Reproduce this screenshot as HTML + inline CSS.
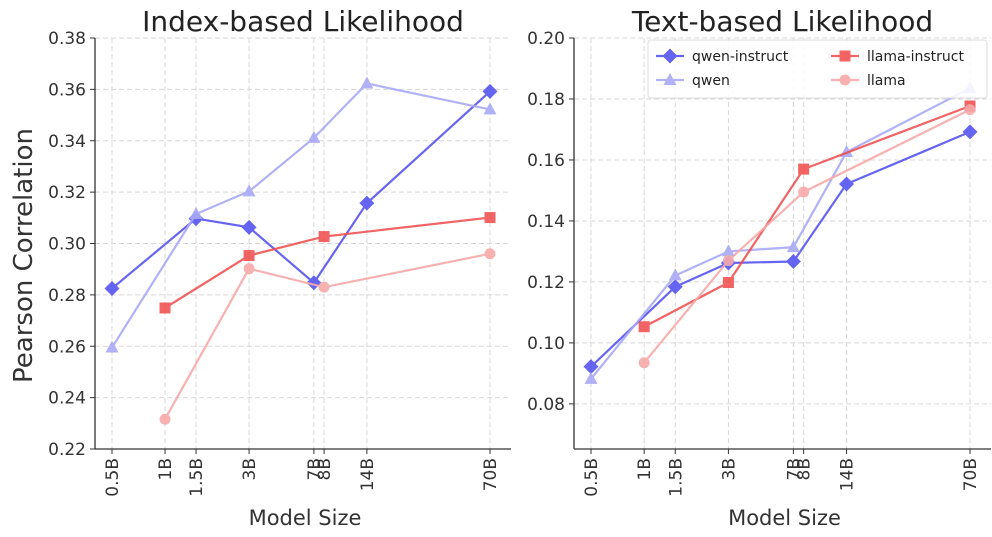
<!DOCTYPE html>
<html><head><meta charset="utf-8"><style>
body{margin:0;background:#fff;}
svg{font-family:"DejaVu Sans","Liberation Sans",sans-serif;}
</style></head><body>
<svg id="chart" width="992" height="532"></svg>
<script>
const categories=["0.5B","1B","1.5B","3B","7B","8B","14B","70B"];
const sizes=[0.5,1,1.5,3,7,8,14,70];
const seriesNames=["qwen-instruct","qwen","llama-instruct","llama"];
const idxQwenInstruct=[[0,0.2825],[2,0.3097],[3,0.3063],[4,0.2847],[6,0.3157],[7,0.3592]];
const idxQwen=[[0,0.2595],[2,0.3115],[3,0.3203],[4,0.3411],[6,0.3623],[7,0.3522]];
const idxLlamaInstruct=[[1,0.2749],[3,0.2953],[5,0.3027],[7,0.3101]];
const idxLlama=[[1,0.2316],[3,0.2902],[5,0.2830],[7,0.2960]];
const txtQwenInstruct=[[0,0.0922],[2,0.1184],[3,0.1262],[4,0.1267],[6,0.1521],[7,0.1692]];
const txtQwen=[[0,0.0882],[2,0.1221],[3,0.1300],[4,0.1314],[6,0.1626],[7,0.1835]];
const txtLlamaInstruct=[[1,0.1053],[3,0.1198],[5,0.1570],[7,0.1777]];
const txtLlama=[[1,0.0935],[3,0.1270],[5,0.1495],[7,0.1765]];
const idxTicks=[0.22,0.24,0.26,0.28,0.30,0.32,0.34,0.36,0.38];
const txtTicks=[0.08,0.10,0.12,0.14,0.16,0.18,0.20];

const NS="http://www.w3.org/2000/svg";
const svg=document.getElementById('chart');
function mk(t,a,p){const e=document.createElementNS(NS,t);for(const k in a)e.setAttribute(k,a[k]);(p||svg).appendChild(e);return e;}
const styles=[
 {c:"#4b4bf0",m:"diamond",o:0.85},
 {c:"#a9a9f7",m:"tri",o:0.9},
 {c:"#f04848",m:"square",o:0.85},
 {c:"#f7a9a9",m:"circle",o:0.9}];
function marker(g,m,x,y,c){
 if(m==="diamond")return mk('polygon',{points:`${x},${y-7.5} ${x+7.5},${y} ${x},${y+7.5} ${x-7.5},${y}`,fill:c},g);
 if(m==="tri")return mk('polygon',{points:`${x},${y-7} ${x+6.5},${y+5} ${x-6.5},${y+5}`,fill:c},g);
 if(m==="square")return mk('rect',{x:x-5.5,y:y-5.5,width:11,height:11,fill:c},g);
 return mk('circle',{cx:x,cy:y,r:5.5,fill:c},g);
}
function panel(name,x0,x1,yTop,yBot,ymin,ymax,ticks,data,title,ylabel){
 const g=mk('g',{});
 
 
 const lmin=Math.log10(0.5),lmax=Math.log10(70);
 const xs=i=>x0+17+(Math.log10(sizes[i])-lmin)/(lmax-lmin)*(x1-x0-38);
 const ys=v=>yBot-(v-ymin)/(ymax-ymin)*(yBot-yTop);
 ticks.forEach(t=>{
  const y=ys(t);
  const gl=mk('line',{x1:x0,x2:x1,y1:y,y2:y,stroke:"#d8d8d8","stroke-dasharray":"5,3"},g);
  
  mk('line',{x1:x0-5,x2:x0,y1:y,y2:y,stroke:"#333"},g);
  const tx=mk('text',{x:x0-9,y:y+6,"text-anchor":"end","font-size":"17",fill:"#333"},g);
  tx.textContent=t.toFixed(2);
  
  
 });
 categories.forEach((c,i)=>{
  const x=xs(i);
  mk('line',{x1:x,x2:x,y1:yTop,y2:yBot,stroke:"#d8d8d8","stroke-dasharray":"5,3"},g);
  mk('line',{x1:x,x2:x,y1:yBot,y2:yBot+5,stroke:"#333"},g);
  const tx=mk('text',{transform:`translate(${x+6},${yBot+9}) rotate(-90)`,"text-anchor":"end","font-size":"17",fill:"#333"},g);
  tx.textContent=c;
  
  
 });
 mk('line',{x1:x0,x2:x0,y1:yTop,y2:yBot,stroke:"#333","stroke-width":1.3},g);
 mk('line',{x1:x0,x2:x1,y1:yBot,y2:yBot,stroke:"#333","stroke-width":1.3},g);
 data.forEach((s,k)=>{
  const st=styles[k];
  const sg=mk('g',{opacity:st.o},g);
  
  
  mk('polyline',{points:s.map(p=>xs(p[0])+','+ys(p[1])).join(' '),fill:"none",stroke:st.c,"stroke-width":2.2},sg);
  s.forEach(p=>{const m=marker(sg,st.m,xs(p[0]),ys(p[1]),st.c);
   
   });
 });
 const tt=mk('text',{x:(x0+x1)/2,y:31,"text-anchor":"middle","font-size":"28",fill:"#222"},g);
 tt.textContent=title;
 
 
 const xl=mk('text',{x:(x0+x1)/2+2,y:525,"text-anchor":"middle","font-size":"21",fill:"#333"},g);
 xl.textContent="Model Size";
 
 
 if(ylabel){const yl=mk('text',{transform:`translate(32,${(yTop+yBot)/2+12}) rotate(-90)`,"text-anchor":"middle","font-size":"26",fill:"#333"},g);
  yl.textContent=ylabel;
  
  }
}
panel('index',95,511,38,449,0.22,0.38,idxTicks,[idxQwenInstruct,idxQwen,idxLlamaInstruct,idxLlama],"Index-based Likelihood","Pearson Correlation");
panel('text',574,991,38,449,0.0652,0.20,txtTicks,[txtQwenInstruct,txtQwen,txtLlamaInstruct,txtLlama],"Text-based Likelihood",null);
const lg=mk('g',{});


mk('rect',{x:648,y:40,width:339,height:58,rx:3,fill:"#fff","fill-opacity":0.85,stroke:"#ddd"},lg);
const pos=[[656,56],[656,80],[831,56],[831,80]];
seriesNames.forEach((n,k)=>{
 const st=styles[k],[x,y]=pos[k];
 const eg=mk('g',{},lg);
 
 
 const s=mk('g',{opacity:st.o},eg);
 mk('line',{x1:x,x2:x+28,y1:y,y2:y,stroke:st.c,"stroke-width":2.2},s);
 marker(s,st.m,x+14,y,st.c);
 const t=mk('text',{x:x+36,y:y+5,"font-size":"14",fill:"#222"},eg);
 t.textContent=n;
});
</script>
</body></html>
